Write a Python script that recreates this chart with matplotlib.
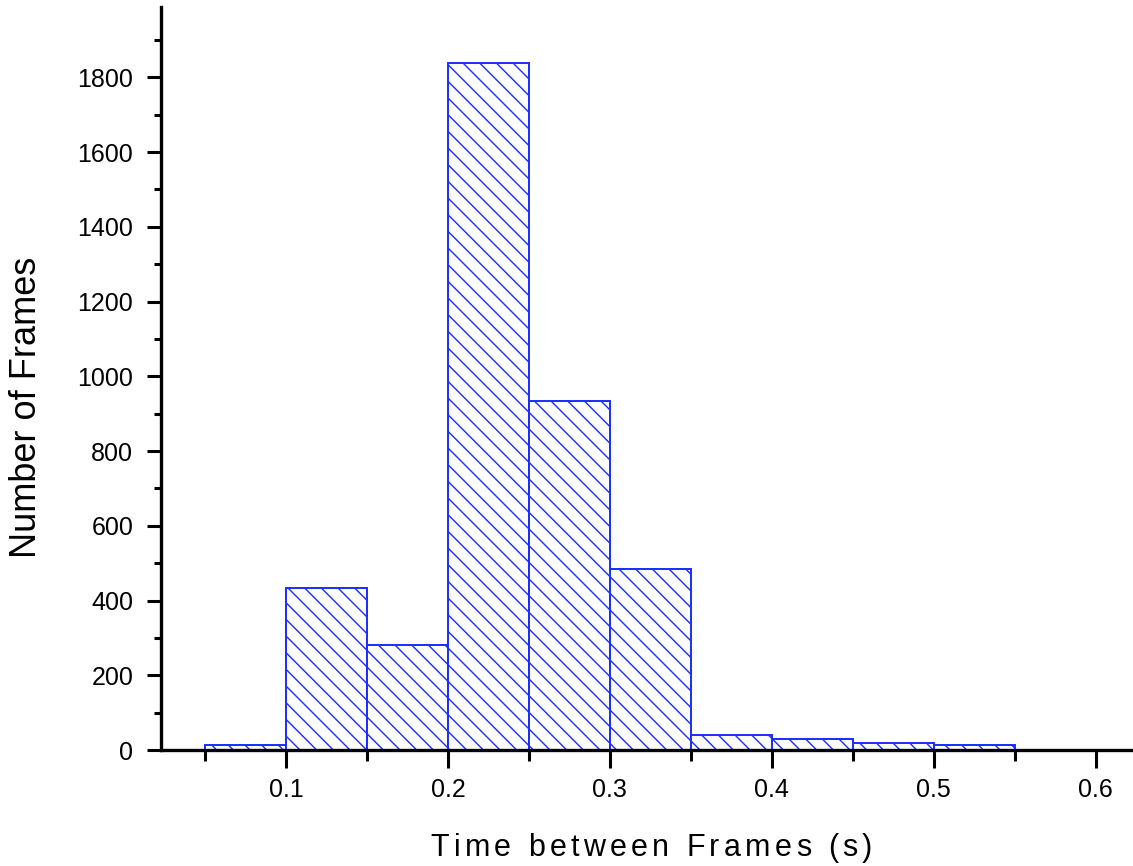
import matplotlib
matplotlib.use("Agg")
import matplotlib.pyplot as plt
from matplotlib.ticker import MultipleLocator
import numpy as np

# Data
bin_edges = [0.05, 0.10, 0.15, 0.20, 0.25, 0.30, 0.35, 0.40, 0.45, 0.50, 0.55]
counts = [13, 433, 281, 1838, 934, 484, 40, 29, 19, 14]
x_label = "Time between Frames (s)"
y_label = "Number of Frames"

plt.rcParams['font.family'] = ['Liberation Sans', 'DejaVu Sans']
plt.rcParams['hatch.linewidth'] = 1.0
plt.rcParams['hatch.color'] = '#1a2cff'

W, H = 1133, 866
fig = plt.figure(figsize=(W / 100, H / 100), dpi=100)
ax = fig.add_axes([161 / W, 116 / H, (W - 161) / W, 743 / H])

left = np.array(bin_edges[:-1])
widths = np.diff(bin_edges)
ax.bar(left, counts, width=widths, align='edge', facecolor='white',
       edgecolor='#1a2cff', linewidth=1.4, hatch='\\\\')

ax.set_xlim(0.0228, 0.623)
ax.set_ylim(0, 1988)

for s in ['top', 'right']:
    ax.spines[s].set_visible(False)
for s in ['left', 'bottom']:
    ax.spines[s].set_linewidth(2.4)

ax.xaxis.set_major_locator(MultipleLocator(0.1))
ax.xaxis.set_minor_locator(MultipleLocator(0.05))
ax.yaxis.set_major_locator(MultipleLocator(200))
ax.yaxis.set_minor_locator(MultipleLocator(100))
ax.xaxis.set_major_formatter(plt.FuncFormatter(lambda v, p: f"{v:.1f}"))

ax.tick_params(axis='x', which='major', direction='out', length=13, width=2.2,
               labelsize=18, pad=7)
ax.tick_params(axis='x', which='minor', direction='out', length=8, width=2.2)
ax.tick_params(axis='y', which='major', direction='out', length=10, width=2.2,
               labelsize=18, pad=10)
ax.tick_params(axis='y', which='minor', direction='out', length=5, width=2.2)

# y label
fig.text(27 / W, 1 - 407 / H, y_label, rotation=90, ha='center', va='center',
         fontsize=26)

# x label with letter spacing
fs = 22
chars = list(x_label)
texts = [fig.text(0, 0, c, fontsize=fs, ha='left', va='baseline') for c in chars]
fig.canvas.draw()
r = fig.canvas.get_renderer()
widths_px = []
for t, c in zip(texts, chars):
    if c == ' ':
        tt = fig.text(0, 0, 'a a', fontsize=fs)
        tt2 = fig.text(0, 0, 'aa', fontsize=fs)
        w = tt.get_window_extent(r).width - tt2.get_window_extent(r).width
        tt.remove(); tt2.remove()
    else:
        w = t.get_window_extent(r).width
    widths_px.append(w)
spacing = 4.3
total = sum(widths_px) + spacing * (len(chars) - 1)
x0 = 651.5 - total / 2
baseline_y = H - 856
x = x0
for t, w in zip(texts, widths_px):
    t.set_position((x / W, baseline_y / H))
    x += w + spacing

fig.savefig("out.png", dpi=100)
